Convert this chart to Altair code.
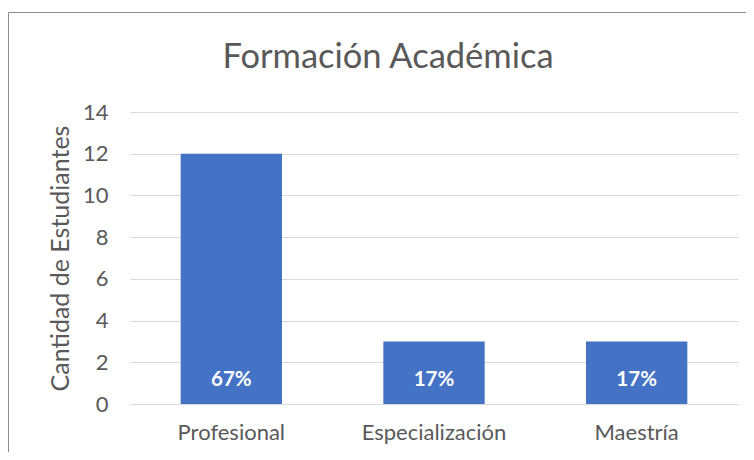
import altair as alt
import pandas as pd

categories = ["Profesional", "Especialización", "Maestría"]
counts = [12, 3, 3]
pct_labels = ["67%", "17%", "17%"]
title_text = ["Formación Académica"]

df = pd.DataFrame({"cat": categories, "n": counts, "pct": pct_labels})
tdf = pd.DataFrame({"t": title_text})

FONT = "Lato"
GREY = "#595959"

x = alt.X("cat:N", sort=categories, title=None,
          scale=alt.Scale(paddingInner=0.5, paddingOuter=0.25),
          axis=alt.Axis(labelAngle=0, labelFontSize=22, labelColor=GREY, labelFont=FONT,
                        ticks=False, domain=False, labelPadding=18))
y = alt.Y("n:Q", title="Cantidad de Estudiantes",
          scale=alt.Scale(domain=[0, 14]),
          axis=alt.Axis(values=[0, 2, 4, 6, 8, 10, 12, 14], labelFontSize=22, labelColor=GREY,
                        labelFont=FONT, titleFont=FONT, titleFontSize=25, titleColor=GREY,
                        titleFontWeight="normal", ticks=False, domain=False, labelPadding=22,
                        titlePadding=9, gridColor="#D9D9D9", gridWidth=1))

frame = alt.Chart(tdf).mark_rect(fill=None, fillOpacity=0, stroke="#8C8C8C", strokeWidth=1).encode(
    x=alt.value(-121.5), x2=alt.value(700), y=alt.value(-99.5), y2=alt.value(400))

title = alt.Chart(tdf).mark_text(fontSize=34.5, font=FONT, color=GREY, baseline="alphabetic",
                                 align="center").encode(
    x=alt.value(258), y=alt.value(-44.5), text="t:N")

bars = alt.Chart(df).mark_bar(color="#4472C4").encode(x=x, y=y)

text = alt.Chart(df).mark_text(color="white", fontWeight="bold", fontSize=20.5, font=FONT,
                               baseline="middle", dy=-24).encode(
    x=alt.X("cat:N", sort=categories), y=alt.datum(0), text="pct:N")

chart = alt.layer(bars, text, frame, title).properties(
    width=608, height=292,
    autosize=alt.AutoSizeParams(type="none"),
    padding={"left": 122, "top": 104, "right": 8, "bottom": 48},
).configure_view(stroke=None)

chart.save("out.html", embed_options={"renderer": "svg", "actions": False})
